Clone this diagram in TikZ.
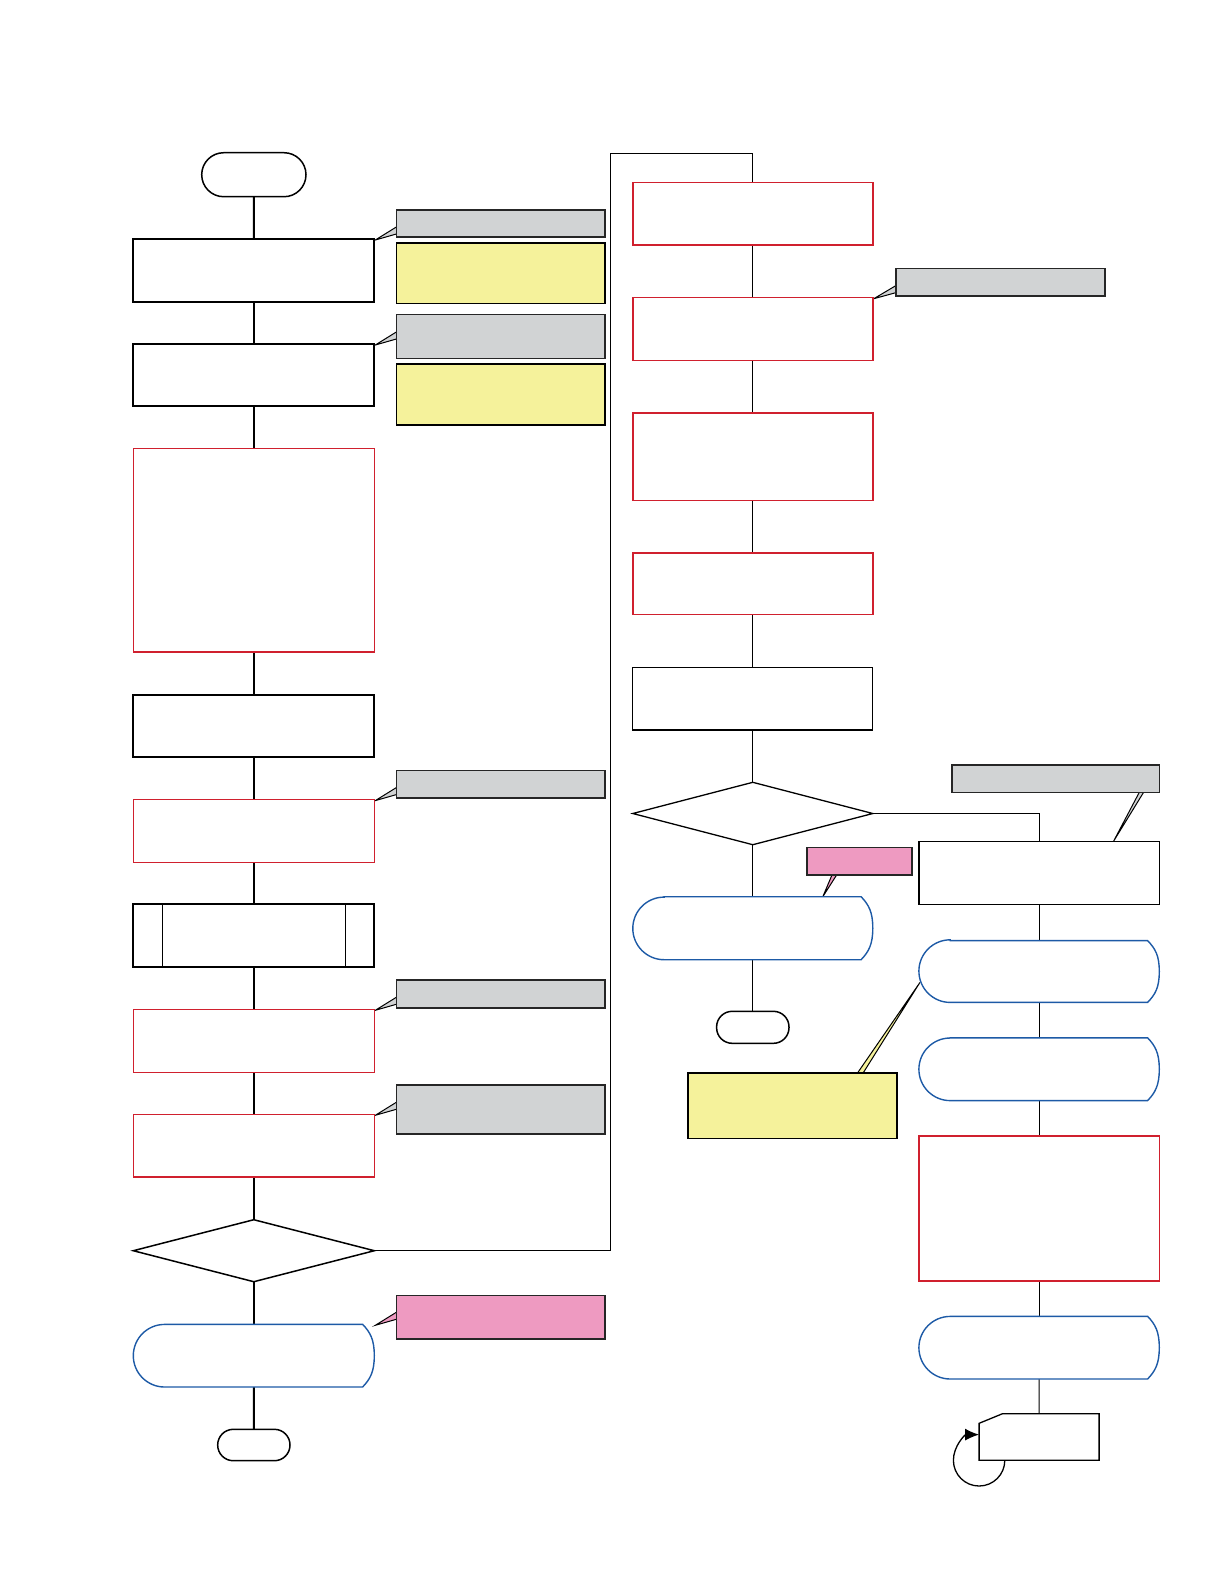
\documentclass[tikz,border=0pt]{standalone}
\usetikzlibrary{fit,calc,arrows.meta}
\definecolor{cred}{RGB}{208,32,46}
\definecolor{cblue}{RGB}{29,90,166}
\definecolor{cgrey}{RGB}{209,211,212}
\definecolor{cyel}{RGB}{245,242,155}
\definecolor{cpink}{RGB}{238,154,193}
\pgfdeclarelayer{background}
\pgfsetlayers{background,main}
\tikzset{
  ghost/.style={inner sep=0pt, outer sep=0pt, draw=none},
  blk/.style={ghost, draw=black, line width=1pt, fill=white},
  blkthin/.style={ghost, draw=black, line width=0.65pt, fill=white},
  redb/.style={ghost, draw=cred, line width=0.7pt, fill=white},
  gryc/.style={ghost, draw=black!85, line width=0.8pt, fill=cgrey},
  ylwc/.style={ghost, draw=black, line width=0.8pt, fill=cyel},
  pnkc/.style={ghost, draw=black!85, line width=0.8pt, fill=cpink},
  termbig/.style={ghost, draw=black, line width=0.75pt, fill=white, rounded corners=11pt},
  termsmall/.style={ghost, draw=black, line width=0.75pt, fill=white, rounded corners=7.8pt},
  bluel/.style={draw=cblue, line width=0.7pt, fill=white},
  lconn/.style={line width=1pt},
  rconn/.style={line width=0.6pt},
  tailst/.style={draw=black, line width=0.5pt, line join=miter},
}
\newcommand\bx[6]{\node[#1, fit={(#3,#4) (#5,#6)}] (#2) {};}
\newcommand\dispshape[1]{%
  \draw[bluel] ($(#1.north west)+(31.3,0)$) -- ($(#1.north east)+(-11.7,0)$)
    .. controls ($(#1.north east)+(-4,8)$) and ($(#1.east)+(0,-16)$) .. (#1.east)
    .. controls ($(#1.east)+(0,16)$) and ($(#1.south east)+(-4,-8)$) .. ($(#1.south east)+(-11.7,0)$)
    -- ($(#1.south west)+(31.3,0)$) arc[start angle=90, end angle=270, radius=31.3] -- cycle;}
\newcommand\tailL[3]{%
  \filldraw[tailst, fill=#1] ($(#3.west |- #2.north)+(0,-12)$) -- ($(#2.north east)+(1,1)$) -- ($(#3.west |- #2.north)+(0,-5)$);}
\begin{document}
\begin{tikzpicture}[x=0.5pt,y=-0.5pt]
\useasboundingbox (0,0) rectangle (1219,1587);
% ---------- left column ----------
\bx{termbig}{S}{201.7}{152.7}{306}{196.7}
\bx{blk}{L1}{133.3}{239}{374.3}{301.7}
\bx{blk}{L2}{133.3}{344}{374.3}{406.3}
\bx{redb}{L3}{133.3}{448.6}{374.3}{652}
\bx{blk}{L4}{133.3}{694.6}{374.3}{757.3}
\bx{redb}{L5}{133.3}{799.6}{374.3}{862.3}
\bx{blk}{L6}{133.3}{904.3}{374.3}{967.3}
\draw[line width=0.7pt] ($(L6.north west)+(29,0)$) -- ($(L6.south west)+(29,0)$);
\draw[line width=0.7pt] ($(L6.north east)+(-28.6,0)$) -- ($(L6.south east)+(-28.6,0)$);
\bx{redb}{L7}{133.3}{1009.3}{374.3}{1072.3}
\bx{redb}{L8}{133.3}{1114.3}{374.3}{1177}
\bx{ghost}{DL}{133.3}{1219.7}{374.3}{1281.7}
\draw[line width=0.75pt, fill=white] (DL.north) -- (DL.east) -- (DL.south) -- (DL.west) -- cycle;
\bx{ghost}{LD}{133.3}{1324.3}{374.3}{1387}
\dispshape{LD}
\bx{termsmall}{LT}{217.7}{1429.3}{290}{1460.7}
% left callouts
\bx{gryc}{G1}{396.3}{209.7}{604.7}{237}
\bx{ylwc}{Y1}{396.3}{242.7}{604.7}{303.3}
\bx{gryc}{G2}{396.3}{314.3}{604.7}{358.3}
\bx{ylwc}{Y2}{396.3}{363.7}{604.7}{425}
\bx{gryc}{G3}{396.3}{770.3}{604.7}{798}
\bx{gryc}{G4}{396.3}{980}{604.7}{1007.7}
\bx{gryc}{G5}{396.3}{1085}{604.7}{1133.7}
\bx{pnkc}{P1}{396.3}{1295.3}{604.7}{1338.7}
% ---------- right column ----------
\bx{redb}{R1}{632.8}{182.3}{872.8}{245}
\bx{redb}{R2}{632.8}{297.7}{872.8}{360.4}
\bx{redb}{R3}{632.8}{413}{872.8}{500.2}
\bx{redb}{R4}{632.8}{552.8}{872.8}{614.6}
\bx{blkthin}{R5}{632.8}{667.2}{872.8}{730}
\bx{ghost}{DR}{632.8}{782.3}{872.8}{844.7}
\draw[line width=0.65pt, fill=white] (DR.north) -- (DR.east) -- (DR.south) -- (DR.west) -- cycle;
\bx{ghost}{RD}{632.8}{896.7}{872.8}{959.7}
\dispshape{RD}
\bx{termsmall}{RT}{716.6}{1011.3}{789}{1043.3}
\bx{blkthin}{B1}{918.9}{841.7}{1159.3}{904.3}
\bx{ghost}{B2}{918.9}{940.6}{1159.3}{1002.4}
\dispshape{B2}
\bx{ghost}{B3}{918.9}{1037.8}{1159.3}{1100.6}
\dispshape{B3}
\bx{redb}{B4}{918.9}{1136}{1159.3}{1280.8}
\bx{ghost}{B5}{918.9}{1316.3}{1159.3}{1379}
\dispshape{B5}
\bx{ghost}{B6}{979.1}{1413.7}{1099.1}{1460.3}
\draw[line width=0.65pt, fill=white] ($(B6.north west)+(0,9.6)$) -- ($(B6.north west)+(23.4,0)$) -- (B6.north east) -- (B6.south east) -- (B6.south west) -- cycle;
\draw[line width=0.65pt, -{Latex[length=7pt,width=6pt]}] ($(B6.south west)+(25.7,0)$) arc[start angle=0, end angle=270, radius=25.7];
% right callouts
\bx{gryc}{GR2}{895.7}{268.3}{1105}{296}
\bx{gryc}{GR3}{951.8}{764.7}{1159.3}{792.3}
\bx{pnkc}{P2}{807.1}{847.3}{911.8}{874.7}
\bx{ylwc}{Y3}{687.7}{1072.7}{896.7}{1138.3}
\coordinate (c1) at (610.7,153.3);
% ---------- background: tails and connectors ----------
\begin{pgfonlayer}{background}
\tailL{cgrey}{L1}{G1}
\tailL{cgrey}{L2}{G2}
\tailL{cgrey}{L5}{G3}
\tailL{cgrey}{L7}{G4}
\tailL{cgrey}{L8}{G5}
\tailL{cpink}{LD}{P1}
\tailL{cgrey}{R2}{GR2}
\filldraw[tailst, fill=cgrey] ($(GR3.south east)+(-20,0)$) -- ($(B1.north east)+(-46,0)$) -- ($(GR3.south east)+(-15.7,0)$);
\filldraw[tailst, fill=cpink] ($(P2.south west)+(25,0)$) -- ($(RD.north east)+(-50,0)$) -- ($(P2.south west)+(29.7,0)$);
\filldraw[tailst, fill=cyel] ($(Y3.north west)+(170,0)$) -- ($(B2.west)+(1,11)$) -- ($(Y3.north west)+(175.6,0)$);
\draw[lconn] (S.south) -- (L1.north);
\draw[lconn] (L1.south) -- (L2.north);
\draw[lconn] (L2.south) -- (L3.north);
\draw[lconn] (L3.south) -- (L4.north);
\draw[lconn] (L4.south) -- (L5.north);
\draw[lconn] (L5.south) -- (L6.north);
\draw[lconn] (L6.south) -- (L7.north);
\draw[lconn] (L7.south) -- (L8.north);
\draw[lconn] (L8.south) -- (DL.north);
\draw[lconn] (DL.south) -- (LD.north);
\draw[lconn] (LD.south) -- (LT.north);
\draw[rconn] (DL.east) -| (c1) -| (R1.north);
\draw[rconn] (R1.south) -- (R2.north);
\draw[rconn] (R2.south) -- (R3.north);
\draw[rconn] (R3.south) -- (R4.north);
\draw[rconn] (R4.south) -- (R5.north);
\draw[rconn] (R5.south) -- (DR.north);
\draw[rconn] (DR.south) -- (RD.north);
\draw[rconn] (RD.south) -- (RT.north);
\draw[rconn] (DR.east) -| (B1.north);
\draw[rconn] (B1.south) -- (B2.north);
\draw[rconn] (B2.south) -- (B3.north);
\draw[rconn] (B3.south) -- (B4.north);
\draw[rconn] (B4.south) -- (B5.north);
\draw[rconn] (B5.south) -- (B6.north);
\end{pgfonlayer}
\end{tikzpicture}
\end{document}
